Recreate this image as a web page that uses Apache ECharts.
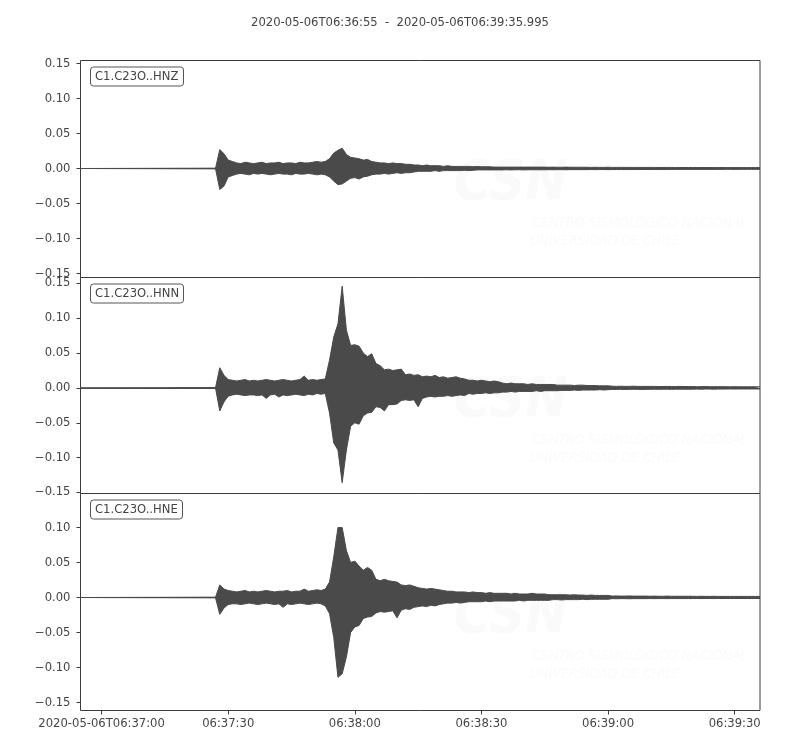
<!DOCTYPE html>
<html>
<head>
<meta charset="utf-8">
<title>C1.C23O</title>
<script src="https://cdn.jsdelivr.net/npm/echarts@6/dist/echarts.min.js"></script>
<style>
  html, body { margin: 0; padding: 0; background: #fff; }
  #chart { width: 800px; height: 750px; }
</style>
</head>
<body>
<div id="chart"></div>
<script>
// record info
var recordTitle = '2020-05-06T06:36:55  -  2020-05-06T06:39:35.995';
var recordLengthSec = 160.995;
var channels = ['C1.C23O..HNZ', 'C1.C23O..HNN', 'C1.C23O..HNE'];

// x ticks, seconds since 06:36:55
var xTickSec = [5, 35, 65, 95, 125, 155];
var xTickLabels = ['2020-05-06T06:37:00', '06:37:30', '06:38:00', '06:38:30', '06:39:00', '06:39:30'];
var yTickValues = [-0.15, -0.10, -0.05, 0, 0.05, 0.10, 0.15];

// y extent of each panel
var hnzRange = [-0.1557, 0.1543];
var hnnRange = [-0.1515, 0.1585];
var hneRange = [-0.1614, 0.1486];

// envelope of the trace, one value per second from envStartSec, in units of 0.001
var envStartSec = 32;

var hnzUpper = [0.5, 27, 21, 12, 10,
  8, 7, 9, 8, 7, 8, 9, 7, 8, 8, 9, 7, 8, 8, 7, 9, 8, 8, 9, 10, 9, 10,
  14, 22, 26, 29, 20, 16, 15, 14, 12, 13, 10, 9,
  8, 8, 7, 8, 7, 7, 6, 6,
  5, 5, 4, 5, 4, 4, 4, 3, 4, 3, 3, 3, 3, 3, 2.5, 3, 2.5, 2.5, 2.5, 2, 2,
  2, 2, 2, 2, 2, 2, 2, 2, 2, 2, 2, 1.8, 2, 1.8, 1.8, 2, 1.8, 1.8, 1.8, 1.8,
  1.8, 1.6, 1.8, 1.6, 1.6, 1.8, 1.6, 1.6, 1.6, 1.6, 1.6, 1.5, 1.6, 1.5, 1.5, 1.6, 1.5, 1.5, 1.5, 1.5,
  1.5, 1.4, 1.5, 1.4, 1.4, 1.5, 1.4, 1.4, 1.4, 1.4, 1.4, 1.3, 1.4, 1.3, 1.3, 1.4, 1.3, 1.3, 1.3, 1.3,
  1.3, 1.3];
var hnzLower = [-0.5, -30, -25, -12, -10,
  -8, -7, -8, -9, -7, -8, -7, -8, -9, -8, -7, -8, -8, -9, -7, -8, -8, -7, -8, -9, -8, -9,
  -12, -18, -23, -22, -18, -14, -13, -15, -12, -11, -9, -8,
  -8, -7, -8, -7, -6, -7, -6, -6,
  -5, -4, -4, -4, -4, -3, -4, -3, -3, -3, -3, -3, -2.5, -3, -2.5, -2, -2, -2, -2, -2, -2,
  -2, -1.8, -2, -1.8, -1.8, -2, -1.8, -1.8, -1.8, -1.8, -1.8, -1.6, -1.8, -1.6, -1.6, -1.8, -1.6, -1.6, -1.6, -1.6,
  -1.6, -1.5, -1.6, -1.5, -1.5, -1.6, -1.5, -1.5, -1.5, -1.5, -1.5, -1.4, -1.5, -1.4, -1.4, -1.5, -1.4, -1.4, -1.4, -1.4,
  -1.4, -1.3, -1.4, -1.3, -1.3, -1.4, -1.3, -1.3, -1.3, -1.3, -1.3, -1.2, -1.3, -1.2, -1.2, -1.3, -1.2, -1.2, -1.2, -1.2,
  -1.2, -1.2];

var hnnUpper = [0.5, 29, 18, 12,
  11, 10, 11, 12, 10, 11, 10, 11, 12, 11, 10, 11, 12, 11, 10, 11, 12, 17, 11, 12, 11, 12, 13,
  40, 73, 92, 146, 83, 61, 62, 60, 50, 45, 49, 35,
  32, 26, 27, 25, 26, 27, 19, 20, 18, 19, 16, 17, 16, 18, 15, 16, 14, 15, 16, 14, 13,
  11, 11, 10, 11, 10, 9, 10, 9,
  7, 6, 7, 6, 6, 6, 5, 6, 5, 5, 5, 5, 5,
  4, 4, 4, 4, 3.5, 4, 4, 3.5, 3.5, 3.5, 3, 3, 3,
  2.5, 2.2, 2.5, 2.2, 2.2, 2.5, 2.2, 2.2, 2.2, 2.2, 2.2, 2, 2, 2.2, 2, 2, 2.2, 2, 2, 2,
  1.8, 1.8, 2, 1.8, 1.8, 1.8, 1.8, 1.8, 1.6, 1.8, 1.6, 1.6, 1.6, 1.6, 1.6, 1.6];
var hnnLower = [-0.5, -33, -20, -12,
  -10, -9, -10, -11, -10, -10, -11, -10, -15, -10, -9, -13, -10, -11, -10, -9, -10, -11, -9, -10, -8, -9, -8,
  -36, -79, -89, -136, -89, -55, -50, -52, -40, -36, -35, -27,
  -28, -33, -24, -24, -23, -18, -17, -18, -17, -27, -15, -13, -12, -13, -12, -12, -11, -12, -11, -10, -11,
  -8, -9, -8, -8, -7, -8, -7, -7,
  -6, -6, -5, -6, -5, -5, -5, -5, -4, -5, -4, -4, -4,
  -4, -3.5, -3.5, -3.5, -3, -3.5, -3, -3, -3, -3, -2.5, -3, -2.5,
  -2.2, -2.2, -2, -2.2, -2, -2, -2, -2.2, -2, -2, -1.8, -2, -1.8, -1.8, -2, -1.8, -1.8, -1.8, -1.8, -1.8,
  -1.6, -1.8, -1.6, -1.6, -1.8, -1.6, -1.6, -1.6, -1.5, -1.6, -1.5, -1.5, -1.5, -1.5, -1.5, -1.5];

var hneUpper = [0.5, 18, 12, 10,
  9, 8, 9, 10, 8, 9, 8, 9, 10, 9, 8, 9, 9, 10, 8, 9, 9, 12, 9, 10, 11, 10,
  12, 22, 58, 100, 100, 67, 50, 52, 45, 39, 43, 39, 26,
  24, 26, 24, 23, 22, 18, 17, 18, 16, 14, 13, 12, 13, 12, 11, 10, 9,
  9, 8, 8, 8, 7, 8, 7, 7, 6, 7, 6, 6,
  6, 6, 5, 6, 5, 5, 5, 6, 5, 5, 5, 4, 4,
  4, 4, 4, 3.5, 4, 3.5, 3.5, 3, 3.5, 3, 3, 3, 3,
  2, 2.3, 2, 2, 2.3, 2, 2, 2, 2, 1.8, 2, 1.8, 1.8, 2, 1.8, 1.8, 1.8, 1.8, 1.8, 1.8,
  1.6, 1.8, 1.6, 1.6, 1.8, 1.6, 1.6, 1.6, 1.6, 1.6, 1.6, 1.6, 1.6, 1.6, 1.6, 1.6];
var hneLower = [-0.5, -24, -15, -10,
  -9, -9, -10, -9, -8, -9, -10, -9, -8, -9, -10, -9, -14, -9, -10, -9, -8, -9, -10, -9, -8, -9,
  -12, -23, -57, -114, -109, -85, -50, -42, -40, -30, -28, -27, -22,
  -20, -21, -20, -19, -29, -18, -16, -17, -14, -13, -12, -13, -11, -12, -10, -9, -8,
  -8, -7, -8, -7, -6, -6, -6, -6, -5, -6, -5, -5,
  -5, -5, -5, -5, -4, -5, -4, -4, -4, -4, -4, -4, -3,
  -3, -3.5, -3, -3, -3, -3, -2.5, -3, -2.5, -2.5, -2.5, -2.5, -2.5,
  -1.6, -1.8, -1.6, -1.6, -1.8, -1.6, -1.6, -1.6, -1.6, -1.5, -1.6, -1.5, -1.5, -1.6, -1.5, -1.5, -1.5, -1.5, -1.5, -1.5,
  -1.4, -1.5, -1.4, -1.4, -1.5, -1.4, -1.4, -1.4, -1.4, -1.4, -1.4, -1.4, -1.4, -1.4, -1.4, -1.4];

var myChart = echarts.init(document.getElementById('chart'));
var traceColor = '#4a4a4a';
var textColor = '#444';
var fontFamily = 'DejaVu Sans';
var fontSize = 11.6;

// panel layout
var panelTops = [60.5, 277.5, 493.5];
var panelHeights = [217, 216, 217];
var panelRanges = [hnzRange, hnnRange, hneRange];
var panelEnvelopes = [[hnzUpper, hnzLower], [hnnUpper, hnnLower], [hneUpper, hneLower]];

function envelopePoints(values) {
  var pts = [[0, 0]];
  for (var i = 0; i < values.length; i++) {
    pts.push([envStartSec + i, values[i] / 1000]);
  }
  return pts;
}

function fmtY(v) {
  return v.toFixed(2).replace('-', '\u2212');
}

var grids = [], xAxes = [], yAxes = [], series = [], titles = [], graphics = [];

titles.push({
  text: recordTitle,
  left: 'center',
  top: 12,
  textStyle: { fontSize: fontSize, fontWeight: 'normal', color: textColor, fontFamily: fontFamily }
});

for (var p = 0; p < 3; p++) {
  var isLast = (p === 2);
  grids.push({
    left: 80.5, right: 40, top: panelTops[p], height: panelHeights[p],
    show: true, borderColor: '#3c3c3c', borderWidth: 1, backgroundColor: 'transparent'
  });
  xAxes.push({
    type: 'value', gridIndex: p, min: 0, max: recordLengthSec,
    axisLine: { show: false, onZero: false },
    splitLine: { show: false },
    axisTick: { show: isLast, length: 4, lineStyle: { color: '#3c3c3c' }, customValues: xTickSec },
    axisLabel: {
      show: isLast, margin: 7, fontSize: fontSize, color: textColor, fontFamily: fontFamily,
      customValues: xTickSec,
      formatter: function (v) {
        var k = xTickSec.indexOf(Math.round(v));
        return k >= 0 ? xTickLabels[k] : '';
      }
    }
  });
  yAxes.push({
    type: 'value', gridIndex: p, min: panelRanges[p][0], max: panelRanges[p][1],
    axisLine: { show: false, onZero: false },
    splitLine: { show: false },
    axisTick: { show: true, length: 4, lineStyle: { color: '#3c3c3c' }, customValues: yTickValues },
    axisLabel: {
      margin: 10, fontSize: fontSize, color: textColor, fontFamily: fontFamily,
      customValues: yTickValues,
      formatter: fmtY
    }
  });
  titles.push({
    text: channels[p],
    left: 90,
    top: panelTops[p] + 6.5,
    padding: [3.5, 5],
    borderColor: '#555',
    borderWidth: 1,
    borderRadius: 3,
    backgroundColor: '#fff',
    textStyle: { fontSize: fontSize, fontWeight: 'normal', color: textColor, fontFamily: fontFamily }
  });

  // faint watermark
  graphics.push({
    type: 'text', z: -10, left: 454, top: panelTops[p] + 96,
    style: { text: 'CSN', fill: '#fafafa', font: 'italic bold 56px "Liberation Sans Narrow", "DejaVu Sans Condensed"' }
  });
  graphics.push({
    type: 'text', z: -10, left: 532, top: panelTops[p] + 156,
    style: { text: 'CENTRO SISMOLÓGICO NACIONAL', fill: '#fafafa', font: 'italic 14px "Liberation Sans Narrow", "DejaVu Sans Condensed"' }
  });
  graphics.push({
    type: 'text', z: -10, left: 530, top: panelTops[p] + 174,
    style: { text: 'UNIVERSIDAD DE CHILE', fill: '#fafafa', font: 'italic 14px "Liberation Sans Narrow", "DejaVu Sans Condensed"' }
  });

  for (var s = 0; s < 2; s++) {
    var item = {
      type: 'line',
      name: channels[p],
      xAxisIndex: p, yAxisIndex: p,
      data: envelopePoints(panelEnvelopes[p][s]),
      showSymbol: false, symbol: 'none',
      clip: true, silent: true,
      lineStyle: { color: traceColor, width: 1 },
      areaStyle: { color: traceColor, opacity: 1 }
    };
    if (s === 1) {
      item.markLine = {
        silent: true, symbol: 'none', label: { show: false },
        lineStyle: { color: traceColor, width: 1, type: 'solid' },
        data: [{ yAxis: 0 }]
      };
    }
    series.push(item);
  }
}

var option = {
  animation: false,
  backgroundColor: '#fff',
  title: titles,
  grid: grids,
  xAxis: xAxes,
  yAxis: yAxes,
  graphic: graphics,
  series: series
};
myChart.setOption(option);
</script>
</body>
</html>
